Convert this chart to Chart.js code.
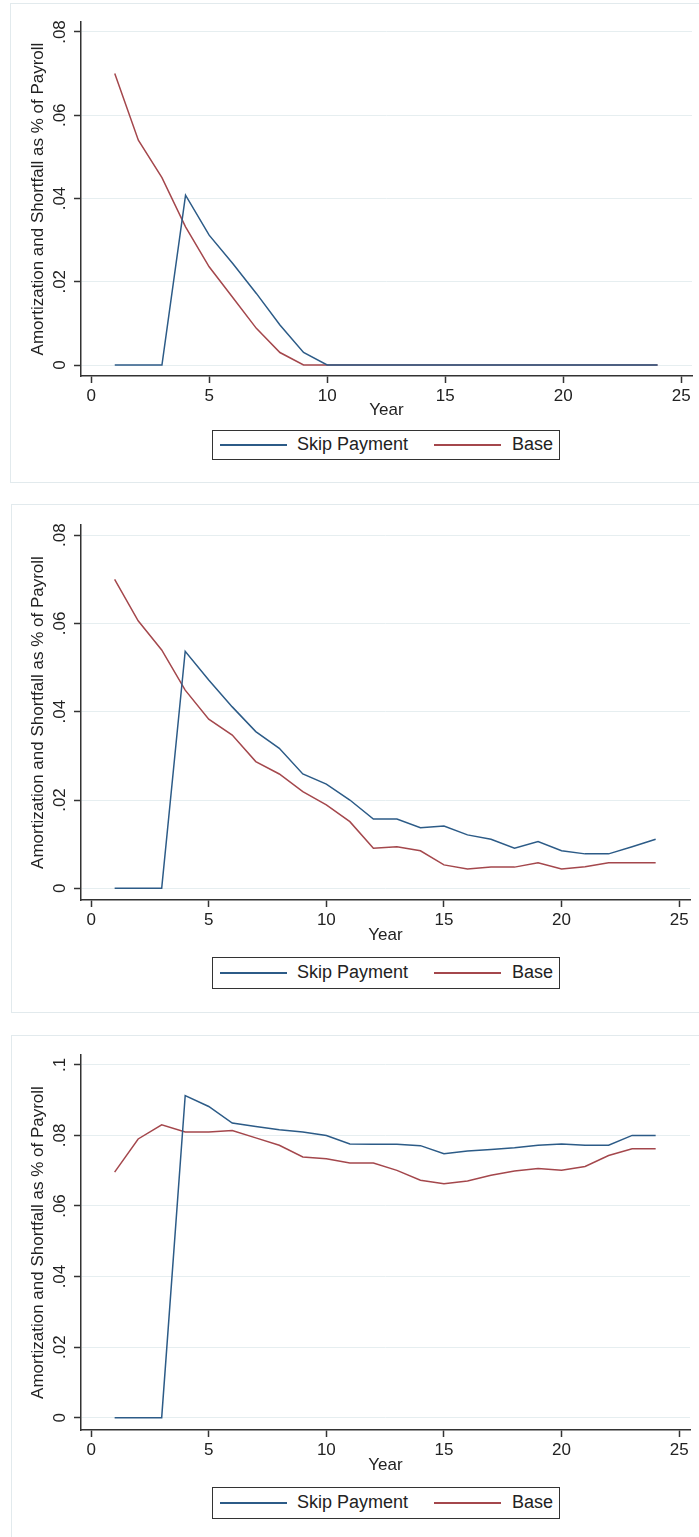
<!DOCTYPE html>
<html><head><meta charset="utf-8">
<script src="https://cdn.jsdelivr.net/npm/chart.js@4"></script>
<style>
html,body{margin:0;padding:0;background:#fff;}
body{width:699px;height:1537px;overflow:hidden;position:relative;font-family:"Liberation Sans",Arial,sans-serif;}
.frame{position:absolute;border:1px solid #e2eaed;box-sizing:border-box;}
canvas{position:absolute;left:0;}
.legend{position:absolute;border:1.5px solid #333;box-sizing:border-box;font-size:18px;color:#222;background:#fff;}
.legend .sw{position:absolute;height:2px;}
.legend .tx{position:absolute;white-space:nowrap;}
</style></head><body>
<script>
// ---- data ----
const years = [1,2,3,4,5,6,7,8,9,10,11,12,13,14,15,16,17,18,19,20,21,22,23,24];
const seriesNames = ["Skip Payment", "Base"];
const xTicks = [0,5,10,15,20,25];
const yTicks12 = [0,0.02,0.04,0.06,0.08];
const yTickLabels12 = ["0",".02",".04",".06",".08"];
const yTicks3 = [0,0.02,0.04,0.06,0.08,0.1];
const yTickLabels3 = ["0",".02",".04",".06",".08",".1"];
const yTitle = "Amortization and Shortfall as % of Payroll";
const xTitle = "Year";

const skip1 = [0,0,0,0.0408,0.0312,0.0244,0.0172,0.0096,0.0030,0,0,0,0,0,0,0,0,0,0,0,0,0,0,0];
const base1 = [0.0700,0.0540,0.0450,0.0332,0.0236,0.0162,0.0088,0.0030,0,0,0,0,0,0,0,0,0,0,0,0,0,0,0,0];

const skip2 = [0,0,0,0.0537,0.0472,0.0411,0.0355,0.0317,0.0259,0.0236,0.0200,0.0157,0.0157,0.0137,0.0141,0.0121,0.0111,0.0091,0.0106,0.0085,0.0078,0.0078,0.0094,0.0111];
const base2 = [0.0700,0.0606,0.0540,0.0449,0.0383,0.0347,0.0287,0.0259,0.0219,0.0189,0.0151,0.0091,0.0094,0.0085,0.0053,0.0044,0.0048,0.0048,0.0058,0.0044,0.0049,0.0058,0.0058,0.0058];

const skip3 = [0,0,0,0.0913,0.0882,0.0835,0.0825,0.0816,0.0810,0.0800,0.0776,0.0775,0.0775,0.0771,0.0748,0.0756,0.0760,0.0765,0.0772,0.0776,0.0772,0.0772,0.0800,0.0800];
const base3 = [0.0696,0.0790,0.0830,0.0810,0.0810,0.0814,0.0793,0.0772,0.0739,0.0734,0.0722,0.0722,0.0701,0.0673,0.0663,0.0671,0.0687,0.0699,0.0706,0.0701,0.0712,0.0743,0.0762,0.0762];

// ---- styling / layout ----
const colors = ["#2c5b87", "#a4474c"];
const FONT = '"Liberation Sans", Arial, sans-serif';
const TXT = "#222";

const panels = [
  {series:[skip1,base1], yt:yTicks12, yl:yTickLabels12, ymin:-0.00264, ymax:0.0824,
   canvasTop:0, canvasH:483, areaTop:22, areaBottom:376, areaRight:692, yearY:410,
   frame:{left:10, top:3, height:480}, legend:{top:430, h:30}},
  {series:[skip2,base2], yt:yTicks12, yl:yTickLabels12, ymin:-0.00265, ymax:0.0823,
   canvasTop:500, canvasH:515, areaTop:525, areaBottom:900, areaRight:690, yearY:935,
   frame:{left:11, top:504, height:509}, legend:{top:957, h:32}},
  {series:[skip3,base3], yt:yTicks3, yl:yTickLabels3, ymin:-0.0035, ymax:0.1028,
   canvasTop:1030, canvasH:507, areaTop:1055, areaBottom:1430, areaRight:690, yearY:1465,
   frame:{left:11, top:1035, height:520}, legend:{top:1487, h:32}}
];

const yLabelPlugin = {
  id: 'yLabels',
  afterDraw(chart, args, opts) {
    const s = chart.scales.y, ctx = chart.ctx;
    ctx.save();
    ctx.font = '17px ' + FONT;
    ctx.fillStyle = TXT;
    ctx.textAlign = 'center';
    ctx.textBaseline = 'middle';
    s.ticks.forEach((t, i) => {
      const y = s.getPixelForValue(t.value);
      ctx.save();
      ctx.translate(60, y);
      ctx.rotate(-Math.PI / 2);
      ctx.fillText(opts.labels[i], 0, 0);
      ctx.restore();
    });
    ctx.restore();
  }
};

panels.forEach((p) => {
  const fr = document.createElement('div');
  fr.className = 'frame';
  fr.style.left = p.frame.left + 'px';
  fr.style.top = p.frame.top + 'px';
  fr.style.width = (760 - p.frame.left) + 'px';
  fr.style.height = p.frame.height + 'px';
  document.body.appendChild(fr);

  const cv = document.createElement('canvas');
  cv.width = 699; cv.height = p.canvasH;
  cv.style.top = p.canvasTop + 'px';
  cv.style.width = '699px'; cv.style.height = p.canvasH + 'px';
  document.body.appendChild(cv);

  const padTop = p.areaTop - p.canvasTop;
  const xH = p.canvasTop + p.canvasH - p.areaBottom;
  const yearOffset = p.canvasTop + p.canvasH - p.yearY;

  const chart = new Chart(cv, {
    type: 'line',
    data: {
      datasets: p.series.map((vals, k) => ({
        label: seriesNames[k],
        data: years.map((x, i) => ({x: x, y: vals[i]})),
        borderColor: colors[k],
        backgroundColor: colors[k],
        borderWidth: 1.5,
        pointRadius: 0,
        tension: 0,
        fill: false
      }))
    },
    options: {
      responsive: false,
      animation: false,
      devicePixelRatio: 1,
      layout: {padding: {left: 0, top: padTop, right: 699 - p.areaRight, bottom: 0}},
      plugins: {legend: {display: false}, tooltip: {enabled: false}, yLabels: {labels: p.yl}},
      scales: {
        x: {
          type: 'linear', min: -0.43, max: 25.46,
          afterBuildTicks: (s) => { s.ticks = xTicks.map(v => ({value: v})); },
          afterFit: (s) => { s.height = xH; },
          grid: {drawOnChartArea: false, tickLength: 7, tickColor: '#333', tickWidth: 1.5},
          border: {display: true, color: '#333', width: 1.5},
          ticks: {color: TXT, font: {family: FONT, size: 17}, padding: 3, maxRotation: 0, autoSkip: false},
          title: {display: true, text: xTitle, color: TXT, font: {family: FONT, size: 17},
                  padding: {top: 0, bottom: yearOffset - 10.2}}
        },
        y: {
          type: 'linear', min: p.ymin, max: p.ymax,
          afterBuildTicks: (s) => { s.ticks = p.yt.map(v => ({value: v})); },
          afterFit: (s) => { s.width = 81; },
          grid: {color: '#e6eef0', lineWidth: 1, tickLength: 7, tickColor: '#333', tickWidth: 1.5},
          border: {display: true, color: '#333', width: 1.5},
          ticks: {display: false},
          title: {display: true, text: yTitle, color: TXT, font: {family: FONT, size: 17},
                  padding: {top: 27.8, bottom: 0}}
        }
      }
    },
    plugins: [yLabelPlugin]
  });

  // legend box built from the chart's datasets
  const lg = document.createElement('div');
  lg.className = 'legend';
  lg.style.left = '212px';
  lg.style.top = p.legend.top + 'px';
  lg.style.width = '348px';
  lg.style.height = p.legend.h + 'px';
  const swLeft = [7, 221], txLeft = [84, 299];
  chart.data.datasets.forEach((ds, k) => {
    const sw = document.createElement('div');
    sw.className = 'sw';
    sw.style.left = swLeft[k] + 'px';
    sw.style.width = '67px';
    sw.style.top = Math.round(p.legend.h / 2 - 2.5) + 'px';
    sw.style.backgroundColor = colors[k];
    lg.appendChild(sw);
    const tx = document.createElement('div');
    tx.className = 'tx';
    tx.style.left = txLeft[k] + 'px';
    tx.style.top = '0px';
    tx.style.lineHeight = (p.legend.h - 3) + 'px';
    tx.textContent = ds.label;
    lg.appendChild(tx);
  });
  document.body.appendChild(lg);
});
</script>
</body></html>
